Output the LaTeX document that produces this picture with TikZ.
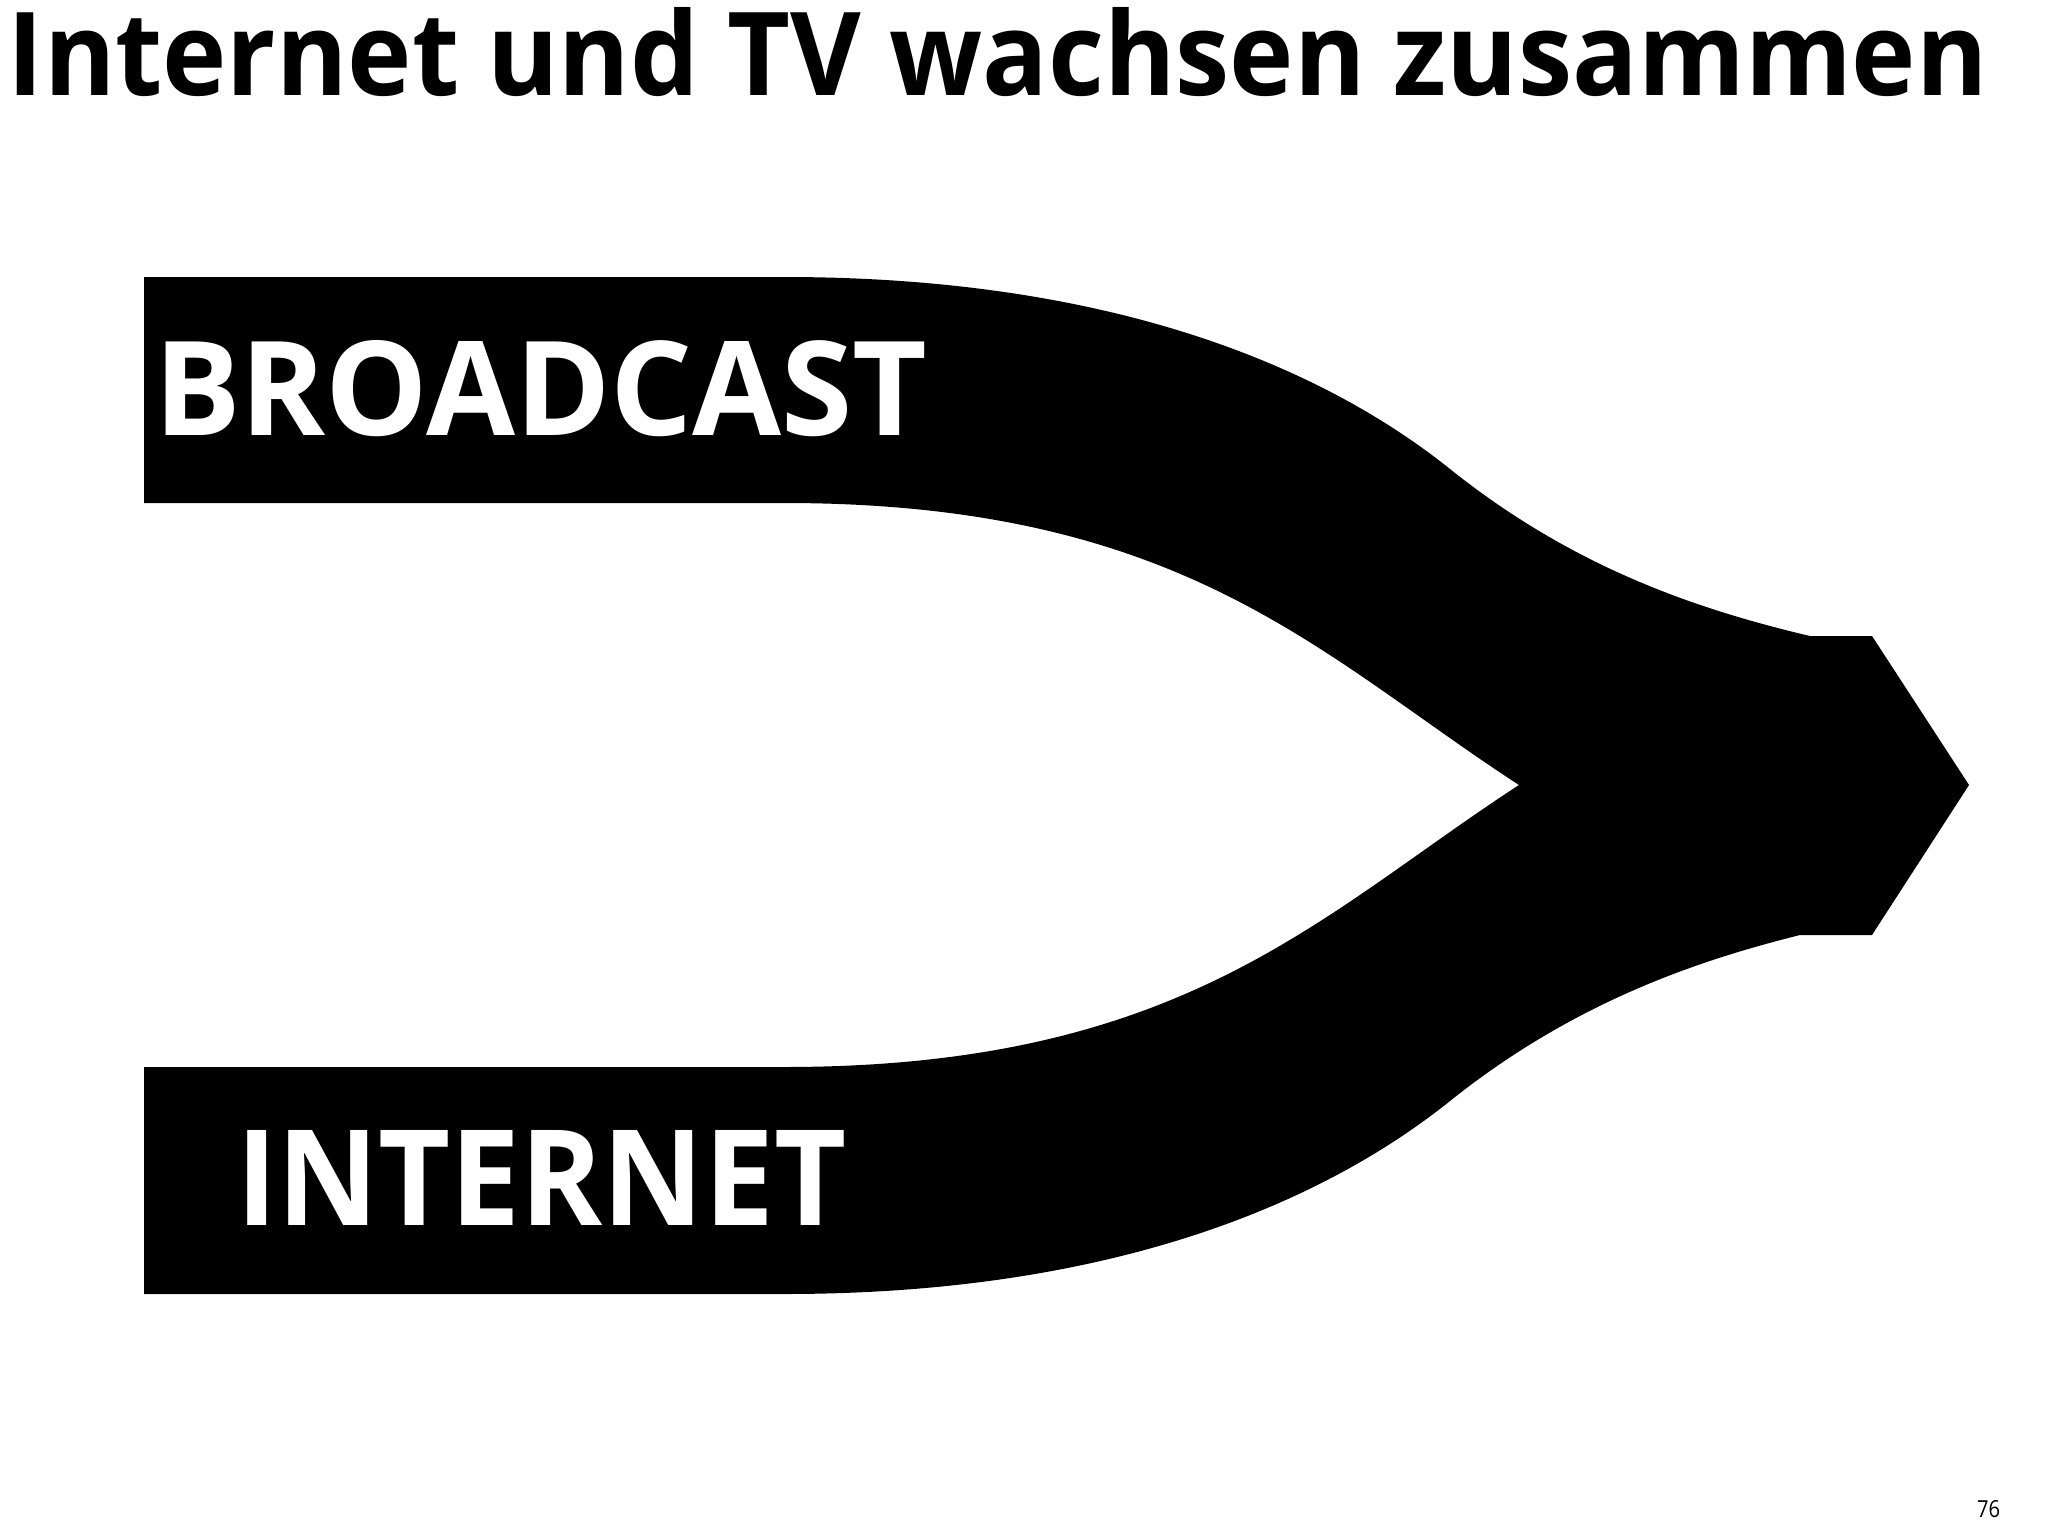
\documentclass[tikz,border=0pt]{standalone}
\usepackage{fontspec}
\setmainfont{Open Sans}
\usepackage{graphicx}
\tikzset{
  txt/.style={inner sep=0pt, outer sep=0pt, anchor=base west},
  band/.style={fill=black, draw=none}
}
\begin{document}
\begin{tikzpicture}[x=0.01cm, y=-0.01cm]
\useasboundingbox (0,0) rectangle (2048,1536);
% merging arrow shape
\path[band]
  (144,277) -- (784,277)
  .. controls (1150,277) and (1350,389) .. (1450,469)
  .. controls (1575,569) and (1700,610) .. (1810,636)
  -- (1872,636) -- (1969,785) -- (1872,935) -- (1800,935)
  .. controls (1700,960) and (1575,1001) .. (1450,1101)
  .. controls (1350,1181) and (1150,1294) .. (784,1294)
  -- (144,1294) -- (144,1067) -- (784,1067)
  .. controls (1184,1067) and (1319,915) .. (1519,785)
  .. controls (1319,655) and (1184,503) .. (784,503)
  -- (144,503) -- cycle;
\node[txt] (title) at (8,95) {\resizebox{19.78cm}{0.88cm}{\bfseries Internet und TV wachsen zusammen}};
\node[txt] (bc) at (154,435) {\resizebox{7.73cm}{0.95cm}{\color{white}\bfseries BROADCAST}};
\node[txt] (inet) at (236,1225) {\resizebox{6.10cm}{0.95cm}{\color{white}\bfseries INTERNET}};
\node[txt] (pg) at (1977,1517) {\resizebox{0.23cm}{0.17cm}{76}};
\end{tikzpicture}
\end{document}
